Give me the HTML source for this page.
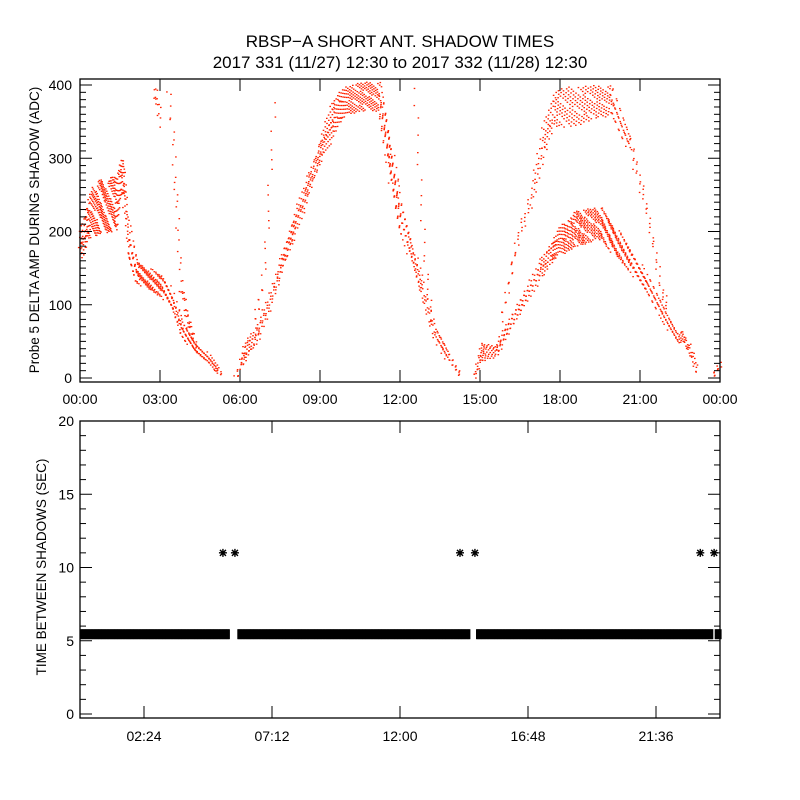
<!DOCTYPE html>
<html><head><meta charset="utf-8"><style>
html,body{margin:0;padding:0;background:#fff;}
svg{display:block;font-family:"Liberation Sans",sans-serif;}
</style></head><body>
<svg id="chart" width="800" height="800" viewBox="0 0 800 800">
<rect width="800" height="800" fill="#fff"/>
<text x="400" y="47" text-anchor="middle" font-size="17">RBSP−A SHORT ANT. SHADOW TIMES</text>
<text x="400" y="68" text-anchor="middle" font-size="17">2017 331 (11/27) 12:30 to 2017 332 (11/28) 12:30</text>
<g id="topPanel"></g>
<g id="botPanel"></g>
</svg>
<script>
// ---- top panel data: bands (hours, centre value, half spread) ----
const bandAHours = [0.0,0.3,0.7,1.0,1.3,1.6,1.8,2.1,2.6,3.1,3.45,3.8,4.3,4.8,5.3];
const bandAValues= [180,220,235,235,240,280,185,145,135,125,105,68,42,27,4];
const bandASpread= [18,30,38,35,40,25,25,15,15,15,12,10,8,6,3];
const bandBHours = [3.3,3.45,3.6,3.75,3.95,4.2,4.4];
const bandBValues= [395,340,235,130,90,60,40];
const bandBSpread= [6,8,10,12,10,8,6];
const bandB2Hours = [2.75,2.9,3.0];
const bandB2Values= [395,370,345];
const bandB2Spread= [8,10,6];
const bandCHours = [5.8,6.2,6.6,7.0,7.5,8.0,8.5,9.0,9.5,10.0,10.6,11.2,11.6,12.0,12.4,12.75,13.3,13.8,14.25];
const bandCValues= [2,40,58,95,152,206,260,311,360,380,385,385,300,220,175,130,60,30,4];
const bandCSpread= [3,15,10,10,12,14,15,15,25,20,20,20,30,20,15,12,10,8,3];
const bandDHours = [6.5,6.8,7.0,7.2,7.3];
const bandDValues= [75,125,210,320,395];
const bandDSpread= [6,6,5,4,4];
const bandD2Hours = [12.55,12.7,12.85,13.0,13.2];
const bandD2Values= [395,290,200,130,70];
const bandD2Spread= [3,4,5,6,6];
const bandEHours = [14.75,15.0,15.6,16.1,16.75,17.25,17.9,18.6,19.5,20.1,20.7,21.25,21.9,22.4,22.6,22.9,23.15];
const bandEValues= [2,35,38,75,115,150,185,205,212,185,158,128,85,55,58,35,5];
const bandESpread= [3,14,8,10,10,12,18,25,22,20,15,12,10,8,8,6,3];
const bandFHours = [15.75,16.4,16.9,17.25,17.75,18.3,19.0,19.9,20.6,21.1,21.5,21.75,22.0];
const bandFValues= [80,190,245,310,370,370,375,380,320,255,180,125,95];
const bandFSpread= [6,10,12,18,25,28,25,20,12,10,8,8,6];
const bandGHours = [23.7,24.0];
const bandGValues= [5,20];
const bandGSpread= [3,4];
const topBands = [
 [bandAHours,bandAValues,bandASpread,0.9],[bandBHours,bandBValues,bandBSpread,0.6],
 [bandB2Hours,bandB2Values,bandB2Spread,0.5],[bandCHours,bandCValues,bandCSpread,0.7],
 [bandDHours,bandDValues,bandDSpread,0.5],[bandD2Hours,bandD2Values,bandD2Spread,0.5],
 [bandEHours,bandEValues,bandESpread,0.8],[bandFHours,bandFValues,bandFSpread,0.45],
 [bandGHours,bandGValues,bandGSpread,1]];
const topXTicks = ["00:00","03:00","06:00","09:00","12:00","15:00","18:00","21:00","00:00"];
const topYTicks = [0,100,200,300,400];

// ---- bottom panel data ----
const shadowSegStart = [0.0,5.9,14.85,23.8];
const shadowSegEnd   = [5.6,14.6,23.7,24.0];
const shadowSegValue = [5.45,5.45,5.45,5.45];
const longGapHours = [5.36,5.81,14.25,14.81,23.26,23.78];
const longGapValues= [11,11,11,11,11,11];
const botXTicks = ["02:24","07:12","12:00","16:48","21:36"];
const botXTickHours = [2.4,7.2,12,16.8,21.6];
const botYTicks = [0,5,10,15,20];

const NS="http://www.w3.org/2000/svg";
function mk(parent,tag,attrs){const e=document.createElementNS(NS,tag);for(const k in attrs)e.setAttribute(k,attrs[k]);parent.appendChild(e);return e;}

// top axes
const TL=80,TR=720,TT=79,TB=382;
const tx=h=>TL+h*(TR-TL)/24;
const ty=v=>378-v*0.7325;
const topG=document.getElementById('topPanel');
const dots=mk(topG,'g',{fill:'#ff2200'});


function interp(xs,ys,h){for(let i=0;i<xs.length-1;i++){if(h>=xs[i]&&h<=xs[i+1]){const t=(h-xs[i])/(xs[i+1]-xs[i]);return ys[i]+t*(ys[i+1]-ys[i]);}}return ys[ys.length-1];}
let seq=0;
topBands.forEach(b=>{
 const hs=b[0],vs=b[1],ss=b[2],dens=b[3];
 for(let h=hs[0];h<=hs[hs.length-1];h+=0.03){
   const c=interp(hs,vs,h), s=interp(hs,ss,h);
   const n=Math.max(1,Math.round(Math.ceil(s/4)*dens));
   for(let k=0;k<n;k++){
     seq++;
     const f=((seq*0.6180339887)%1)*2-1;
     const g=((seq*0.7548776662)%1)*2-1;
     const v=c+f*s;
     if(v>405||v<-2)continue;
     const r=document.createElementNS(NS,'rect');
     r.setAttribute('x',(tx(h)+g*2.2).toFixed(1));
     r.setAttribute('y',ty(v).toFixed(1));
     r.setAttribute('width','1.6');r.setAttribute('height','1.3');
     
     
     dots.appendChild(r);
   }
 }
});
const tf=mk(topG,'rect',{x:TL,y:TT,width:TR-TL,height:TB-TT,fill:'none',stroke:'#000','stroke-width':1.3});

for(let v=0;v<=400;v+=10){const L=v%100===0?12:6;mk(topG,'line',{x1:TL,x2:TL+L,y1:ty(v),y2:ty(v),stroke:'#000'});mk(topG,'line',{x1:TR,x2:TR-L,y1:ty(v),y2:ty(v),stroke:'#000'});}
topYTicks.forEach(v=>{const t=mk(topG,'text',{x:72,y:ty(v)+5,'text-anchor':'end','font-size':14});t.textContent=v;
 });
topXTicks.forEach((s,i)=>{const x=tx(i*3);mk(topG,'line',{x1:x,x2:x,y1:TB,y2:TB-12,stroke:'#000'});mk(topG,'line',{x1:x,x2:x,y1:TT,y2:TT+12,stroke:'#000'});
 const t=mk(topG,'text',{x:x,y:404,'text-anchor':'middle','font-size':14});t.textContent=s;
 });
const yl=mk(topG,'text',{x:0,y:0,transform:'translate(39,230) rotate(-90)','text-anchor':'middle','font-size':13.5});
yl.textContent='Probe 5 DELTA AMP DURING SHADOW (ADC)';


// bottom axes
const BL=80,BR=720,BT=421,BB=718;
const bx=h=>BL+h*(BR-BL)/24;
const by=v=>714-v*14.65;
const botG=document.getElementById('botPanel');
const pts=mk(botG,'g',{fill:'#000'});

shadowSegStart.forEach((s,i)=>{
 for(let h=s;h<=shadowSegEnd[i];h+=0.04){
  const r=document.createElementNS(NS,'rect');
  r.setAttribute('x',bx(h).toFixed(1));r.setAttribute('y',(by(shadowSegValue[i])-5).toFixed(1));
  r.setAttribute('width','1.6');r.setAttribute('height','10');
  
  
  pts.appendChild(r);
 }
});
longGapHours.forEach((h,i)=>{
 const cx=bx(h), cy=by(longGapValues[i]);
 const g=document.createElementNS(NS,'path');
 g.setAttribute('d',`M${cx-4},${cy}H${cx+4}M${cx},${cy-4}V${cy+4}M${cx-3},${cy-3}L${cx+3},${cy+3}M${cx-3},${cy+3}L${cx+3},${cy-3}`);
 g.setAttribute('stroke','#000');g.setAttribute('stroke-width','1.4');
 
 
 pts.appendChild(g);
});
const bf=mk(botG,'rect',{x:BL,y:BT,width:BR-BL,height:BB-BT,fill:'none',stroke:'#000','stroke-width':1.3});

for(let v=0;v<=20;v+=1){const L=v%5===0?12:6;mk(botG,'line',{x1:BL,x2:BL+L,y1:by(v),y2:by(v),stroke:'#000'});mk(botG,'line',{x1:BR,x2:BR-L,y1:by(v),y2:by(v),stroke:'#000'});}
botYTicks.forEach(v=>{const t=mk(botG,'text',{x:74,y:by(v)+5,'text-anchor':'end','font-size':14});t.textContent=v;
 });
botXTicks.forEach((s,i)=>{const x=bx(botXTickHours[i]);mk(botG,'line',{x1:x,x2:x,y1:BB,y2:BB-12,stroke:'#000'});mk(botG,'line',{x1:x,x2:x,y1:BT,y2:BT+12,stroke:'#000'});
 const t=mk(botG,'text',{x:x,y:741,'text-anchor':'middle','font-size':14});t.textContent=s;
 });
const yl2=mk(botG,'text',{x:0,y:0,transform:'translate(46,567) rotate(-90)','text-anchor':'middle','font-size':13.5});
yl2.textContent='TIME BETWEEN SHADOWS (SEC)';

</script>
</body></html>
